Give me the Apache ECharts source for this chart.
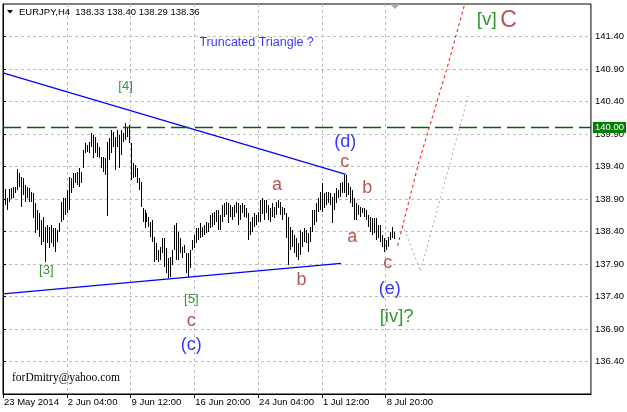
<!DOCTYPE html>
<html><head><meta charset="utf-8">
<script src="https://cdn.jsdelivr.net/npm/echarts@6/dist/echarts.min.js"></script>
<style>html,body{margin:0;padding:0;background:#fff}#c{width:627px;height:412px}</style>
</head><body><div id="c"></div>
<script>
// ---------- DATA ----------
const symbolName = 'EURJPY,H4';
const lastOHLC = [138.33, 138.40, 138.29, 138.36];
// H4 bar highs / lows (bar index starts at 1), last bar appended from lastOHLC
const highs = [
139.05,138.92,139.05,139.07,139.08,139.08,139.36,139.30,139.24,139.22,
139.12,139.08,139.07,139.01,138.99,138.84,138.73,138.68,138.58,138.62,
138.47,138.50,138.47,138.50,138.45,138.45,138.42,138.53,138.85,138.92,
138.92,139.04,139.24,139.22,139.30,139.30,139.32,139.38,139.32,139.65,
139.76,139.73,139.78,139.92,139.88,139.85,139.76,139.70,139.55,139.55,
139.53,139.78,139.84,139.96,139.93,139.85,139.96,139.88,139.96,139.92,
140.07,139.99,140.04,139.76,139.45,139.42,139.38,139.22,139.16,138.76,
138.73,138.68,138.62,138.55,138.58,138.32,138.22,138.12,138.16,138.30,
138.30,138.15,137.99,138.01,138.12,138.50,138.53,138.39,138.30,138.16,
138.19,138.07,138.07,138.12,138.27,138.35,138.45,138.45,138.53,138.47,
138.50,138.55,138.53,138.65,138.68,138.70,138.73,138.73,138.65,138.81,
138.84,138.85,138.84,138.81,138.78,138.81,138.85,138.84,138.81,138.84,
138.81,138.76,138.68,138.55,138.62,138.68,138.65,138.70,138.88,138.92,
138.88,138.88,138.81,138.76,138.84,138.78,138.85,138.88,138.85,138.78,
138.76,138.68,138.62,138.47,138.42,138.35,138.30,138.22,138.42,138.39,
138.45,138.42,138.38,138.47,138.73,138.73,138.84,138.92,139.01,139.15,
138.99,139.01,139.01,138.99,138.93,138.99,139.07,139.04,139.15,139.16,
139.27,139.27,139.15,139.08,139.04,138.92,138.84,138.81,138.78,138.76,
138.76,138.73,138.65,138.62,138.61,138.61,138.61,138.50,138.50,138.35,
138.30,138.27,138.32,138.39,138.47
];
const lows = [
138.81,138.73,138.85,138.90,138.92,138.99,139.04,139.08,138.78,138.96,
138.85,138.92,138.85,138.85,138.61,138.38,138.42,138.32,138.19,138.24,
137.93,138.22,138.15,138.22,138.16,138.08,138.24,138.39,138.55,138.58,
138.65,138.68,138.73,138.99,139.07,139.15,139.12,139.08,139.15,139.38,
139.61,139.62,139.61,139.70,139.53,139.61,139.55,139.53,139.38,139.32,
139.27,138.64,139.50,139.61,139.70,139.35,139.70,139.38,139.58,139.78,
139.81,139.85,139.76,139.19,139.22,139.24,139.15,139.04,138.78,138.55,
138.45,138.55,138.47,138.32,138.24,137.93,137.96,137.93,137.96,138.07,
137.85,137.76,137.68,137.70,137.88,138.12,137.96,137.96,138.07,137.99,
138.07,137.76,137.68,137.84,138.12,138.15,138.22,138.27,138.30,138.32,
138.35,138.38,138.39,138.45,138.47,138.50,138.55,138.42,138.42,138.55,
138.62,138.65,138.53,138.62,138.58,138.62,138.68,138.50,138.58,138.68,
138.62,138.61,138.27,138.35,138.39,138.47,138.50,138.55,138.55,138.67,
138.58,138.68,138.58,138.55,138.62,138.61,138.65,138.76,138.65,138.58,
138.65,138.30,137.88,138.12,138.16,138.07,138.01,137.96,138.04,138.16,
138.24,138.22,138.08,138.24,138.39,138.50,138.55,138.70,138.73,138.70,
138.76,138.81,138.84,138.81,138.53,138.73,138.84,138.92,138.93,138.99,
138.99,138.93,138.96,138.84,138.78,138.58,138.58,138.65,138.62,138.68,
138.62,138.58,138.47,138.39,138.35,138.38,138.27,138.30,138.24,138.16,
138.08,138.12,138.16,138.27,138.30
];
const xTickIndex  = [0, 32, 64, 96, 128, 160, 192];
const xTickLabels = ['23 May 2014','2 Jun 04:00','9 Jun 12:00','16 Jun 20:00','24 Jun 04:00','1 Jul 12:00','8 Jul 20:00'];
const yTickValues = [136.4,136.9,137.4,137.9,138.4,138.9,139.4,139.9,140.4,140.9,141.4];
const levelPrice = 140.00;
const upperTrend = [[0,140.84],[172,139.28]];
const lowerTrend = [[0,137.44],[169.6,137.91]];
const projRed  = [[198,138.18],[208.5,139.45],[222.5,140.88],[233,142.05]];
const projGray = [[200.5,138.50],[209.5,137.79],[233.5,140.49]];
const waveText   = ['Truncated Triangle ?','[4]','[3]','[5]','c','(c)','a','b','(d)','c','b','a','c','(e)','[iv]?','[v] C'];
const waveIdx    = [127.25,61.5,21.75,94.5,94.5,94.5,137.5,149.75,171.75,171.5,182.75,175.25,193,194,197.5,247.75];
const wavePrice  = [141.30,140.63,137.80,137.35,137.02,136.65,139.12,137.65,139.78,139.47,139.07,138.31,137.92,137.52,137.08,141.65];
const waveDegree = ['note','primary','primary','primary','minor','inter','minor','minor','inter','minor','minor','minor','minor','inter','primaryBig','primaryC'];
const authorText = 'forDmitry@yahoo.com';

// ---------- BUILD ----------
const F = 'Liberation Sans, Arial, sans-serif';
const GREEN = '#007a00', BROWN = '#a52a2a', BLUE = '#0000ff';
const allHigh = highs.concat([lastOHLC[1]]);
const allLow  = lows.concat([lastOHLC[2]]);
const bars = allHigh.map((h, k) => [k + 1, h, allLow[k]]);

const degreeStyle = {
  note:       {color: BLUE,  fontSize: 12.5},
  primary:    {color: GREEN, fontSize: 13},
  primaryBig: {color: GREEN, fontSize: 18.5},
  minor:      {color: BROWN, fontSize: 18},
  inter:      {color: BLUE,  fontSize: 18}
};
const waveData = waveText.map((t, k) => {
  const d = waveDegree[k];
  let label;
  if (d === 'primaryC') {
    label = {formatter: '{g|[v]} {r|C}', rich: {
      g: {color: GREEN, fontSize: 19, fontFamily: F},
      r: {color: BROWN, fontSize: 23, fontFamily: F}}};
  } else {
    label = {formatter: t, color: degreeStyle[d].color, fontSize: degreeStyle[d].fontSize};
  }
  return {name: t, value: [waveIdx[k], wavePrice[k]], label: label};
});

const chart = echarts.init(document.getElementById('c'), null, {renderer: 'canvas'});
chart.setOption({
  animation: false,
  backgroundColor: '#fff',
  grid: {left: 3, right: 34, top: 4, bottom: 18, show: true, borderColor: '#000', borderWidth: 1},
  xAxis: {
    type: 'value', min: 0, max: 295, interval: 16,
    axisLine: {show: true, onZero: false, lineStyle: {color: '#000'}},
    axisTick: {show: true, length: 4, customValues: xTickIndex, lineStyle: {color: '#000'}},
    axisLabel: {
      customValues: xTickIndex, align: 'left', margin: 3, padding: [0, 0, 0, 1],
      color: '#000', fontFamily: F, fontSize: 9.5, hideOverlap: false,
      formatter: v => { const k = xTickIndex.indexOf(Math.round(v)); return k >= 0 ? xTickLabels[k] : ''; }
    },
    splitLine: {show: true, lineStyle: {color: '#bdbdbd', type: [3, 3], width: 1}}
  },
  yAxis: {
    type: 'value', position: 'right', min: 135.9, max: 141.9, interval: 0.5, scale: true,
    axisLine: {show: true, lineStyle: {color: '#000'}},
    axisTick: {show: true, length: 3, customValues: yTickValues, lineStyle: {color: '#000'}},
    axisLabel: {
      customValues: yTickValues,
      margin: 4, color: '#000', fontFamily: F, fontSize: 9.5,
      formatter: v => (Math.abs(v - 135.9) < 1e-6 || Math.abs(v - 141.9) < 1e-6) ? '' : v.toFixed(2)
    },
    splitLine: {show: true, lineStyle: {color: '#bdbdbd', type: [3, 3], width: 1}}
  },
  series: [
    {
      type: 'custom', name: 'bars', z: 3,
      data: bars,
      encode: {x: 0, y: [1, 2]},
      renderItem: (params, api) => {
        const p1 = api.coord([api.value(0), api.value(1)]);
        const p2 = api.coord([api.value(0), api.value(2)]);
        const y1 = Math.round(p1[1]), y2 = Math.round(p2[1]);
        return {type: 'rect', shape: {x: Math.round(p1[0]), y: y1, width: 1, height: Math.max(1, y2 - y1)},
                style: {fill: '#000'}};
      }
    },
    {
      type: 'line', name: 'upper', z: 4, data: upperTrend, symbol: 'none',
      lineStyle: {color: BLUE, width: 1.2},
      markLine: {
        silent: true, symbol: 'none', data: [{yAxis: levelPrice}],
        lineStyle: {color: '#006400', type: [18, 6], width: 1.3},
        label: {show: true, position: 'end', distance: 2, formatter: levelPrice.toFixed(2),
                color: '#fff', backgroundColor: '#008000', padding: [1, 2, 0, 2],
                fontFamily: F, fontSize: 9.5}
      }
    },
    {type: 'line', name: 'lower', z: 4, data: lowerTrend, symbol: 'none', lineStyle: {color: BLUE, width: 1.2}},
    {type: 'line', name: 'projRed', z: 4, data: projRed, symbol: 'none', clip: true,
     lineStyle: {color: '#ff0000', width: 1, type: [3, 3]}},
    {type: 'line', name: 'projGray', z: 4, data: projGray, symbol: 'none', clip: true,
     lineStyle: {color: '#a8a8a8', width: 1, type: [2, 3]}},
    {
      type: 'scatter', name: 'waves', z: 5, data: waveData, symbolSize: 1,
      itemStyle: {color: 'transparent'},
      label: {show: true, position: 'inside', fontFamily: F},
      emphasis: {disabled: true}
    }
  ],
  graphic: [
    {type: 'polygon', shape: {points: [[7, 10], [13, 10], [10, 13.5]]}, style: {fill: '#000'}, z: 10},
    {type: 'text', x: 19, y: 12, z: 10, style: {
      text: symbolName + '  ' + lastOHLC.map(v => v.toFixed(2)).join(' '),
      fill: '#000', font: '9.5px ' + F, verticalAlign: 'middle'}},
    {type: 'polygon', shape: {points: [[390, 4], [400, 4], [395, 9]]}, style: {fill: '#a9a9a9'}, z: 10},
    {type: 'text', x: 12, y: 378, z: 10, style: {
      text: authorText, fill: '#000', font: '11.5px "Liberation Serif", "Times New Roman", serif', verticalAlign: 'middle'}}
  ]
});
</script></body></html>
